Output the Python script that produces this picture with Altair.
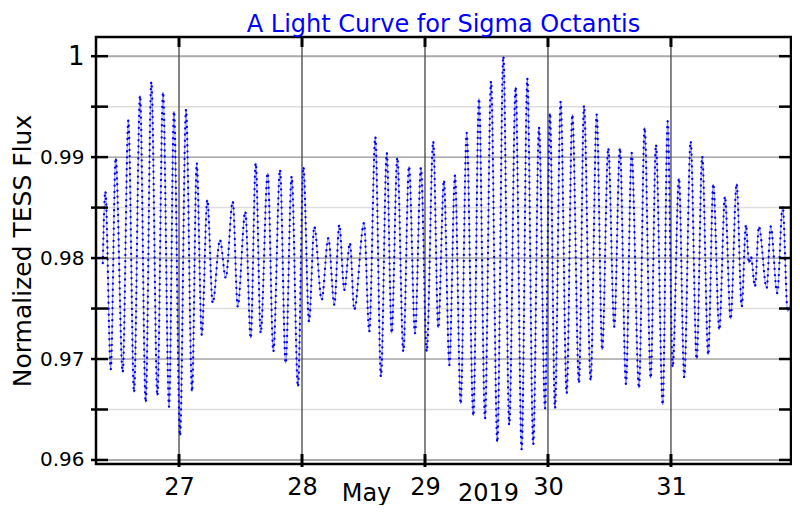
import altair as alt
import pandas as pd

# ---- data (extrema of the light curve) ----
time_day = [
    26.380, 26.401, 26.445, 26.485, 26.542, 26.588, 26.634, 26.683, 26.729, 26.775,
    26.824, 26.870, 26.919, 26.959, 27.008, 27.057, 27.106, 27.144, 27.185, 27.230,
    27.274, 27.333, 27.380, 27.437, 27.477, 27.539, 27.583, 27.624, 27.664, 27.721,
    27.767, 27.821, 27.867, 27.916, 27.967, 28.011, 28.057, 28.100, 28.160, 28.214,
    28.263, 28.303, 28.344, 28.390, 28.425, 28.504, 28.547, 28.596, 28.642, 28.689,
    28.729, 28.775, 28.824, 28.870, 28.919, 28.967, 29.014, 29.067, 29.108, 29.154,
    29.198, 29.244, 29.290, 29.339, 29.393, 29.439, 29.488, 29.537, 29.588, 29.637,
    29.685, 29.737, 29.786, 29.832, 29.880, 29.927, 29.976, 30.016, 30.057, 30.103,
    30.152, 30.198, 30.252, 30.293, 30.347, 30.396, 30.441, 30.490, 30.539, 30.585,
    30.634, 30.680, 30.740, 30.786, 30.835, 30.878, 30.933, 30.973, 31.014, 31.065,
    31.108, 31.160, 31.209, 31.254, 31.303, 31.344, 31.393, 31.439, 31.485, 31.534,
    31.575, 31.610, 31.634, 31.650, 31.683, 31.715, 31.778, 31.811, 31.864, 31.908,
    31.949, 31.967,
]
flux = [
    0.97950, 0.98661, 0.96899, 0.98992, 0.96869, 0.99365, 0.96671, 0.99610, 0.96571, 0.99746,
    0.96637, 0.99643, 0.96528, 0.99454, 0.96240, 0.99471, 0.96677, 0.98942, 0.97239, 0.98578,
    0.97554, 0.98182, 0.97802, 0.98562, 0.97520, 0.98462, 0.97206, 0.98942, 0.97256, 0.98843,
    0.97073, 0.98876, 0.96958, 0.98810, 0.96726, 0.98903, 0.97371, 0.98313, 0.97586, 0.98198,
    0.97537, 0.98330, 0.97685, 0.98149, 0.97487, 0.98347, 0.97272, 0.99200, 0.96825, 0.99042,
    0.97256, 0.98998, 0.97073, 0.98909, 0.97256, 0.98893, 0.97073, 0.99157, 0.97306, 0.98770,
    0.96941, 0.98819, 0.96555, 0.99240, 0.96436, 0.99580, 0.96413, 0.99752, 0.96175, 1.00000,
    0.96346, 0.99696, 0.96105, 0.99779, 0.96155, 0.99296, 0.96512, 0.99438, 0.96512, 0.99548,
    0.96661, 0.99422, 0.96760, 0.99511, 0.96786, 0.99422, 0.97090, 0.99091, 0.97321, 0.99091,
    0.96753, 0.99042, 0.96710, 0.99293, 0.96810, 0.99124, 0.96545, 0.99355, 0.96919, 0.98794,
    0.96819, 0.99157, 0.96998, 0.99008, 0.97041, 0.98734, 0.97289, 0.98611, 0.97395, 0.98737,
    0.97520, 0.98330, 0.97950, 0.98016, 0.97718, 0.98313, 0.97702, 0.98313, 0.97653, 0.98512,
    0.97470, 0.97536,
]

day_ticks = [27, 28, 29, 30, 31]
month_label = "May"
year_label = "2019"
flux_labels = [0.96, 0.97, 0.98, 0.99, 1.0]
flux_inner_major = [0.97, 0.98, 0.99]
flux_edge_major = [0.96, 1.0]
flux_minor = [0.965, 0.975, 0.985, 0.995]
flux_tick_marks = [0.96, 0.965, 0.97, 0.975, 0.98, 0.985, 0.99, 0.995, 1.0]

W, H = 695, 427
FONT = "DejaVu Sans"

xscale = alt.Scale(domain=[26.325, 31.976], nice=False, zero=False)
yscale = alt.Scale(domain=[0.9596, 1.0019], nice=False, zero=False)

curve_df = pd.DataFrame({"t": time_day, "flux": flux})

x_axis = alt.Axis(
    orient="bottom",
    values=day_ticks, format="d", labelFontSize=24, labelFont=FONT, labelColor="black",
    labelPadding=11, ticks=False, tickSize=0, domain=False, grid=False,
    title=month_label, titleFontSize=24, titleFont=FONT,
    titleFontWeight="normal", titleColor="black", titleX=270, titleY=36,
    titleBaseline="alphabetic", titleAlign="center",
)
x_axis_year = alt.Axis(
    orient="bottom",
    values=day_ticks, labels=False, ticks=False, tickSize=0, domain=False, grid=False,
    title=year_label, titleFontSize=24, titleFont=FONT,
    titleFontWeight="normal", titleColor="black", titleX=392, titleY=36,
    titleBaseline="alphabetic", titleAlign="center",
)
y_axis = alt.Axis(
    orient="left",
    values=flux_labels, format=".2~f",
    labelFontSize={"condition": {"test": "datum.value == 1", "value": 26}, "value": 20},
    labelFont=FONT, labelColor="black", labelPadding=12, ticks=False, tickSize=0,
    domain=False, grid=False, title="Normalized TESS Flux", titleFontSize=25,
    titleFont=FONT, titleFontWeight="normal", titleColor="black", titlePadding=4,
)

def Xf(field, axis=None):
    return alt.X(field, scale=xscale, axis=axis)

def Yf(field):
    return alt.Y(field, scale=yscale, axis=y_axis)

def ygrid(values, color, width):
    return alt.Chart(pd.DataFrame({"v": values})).mark_rule(color=color, strokeWidth=width).encode(
        y=Yf("v:Q")
    )

minor_grid = ygrid(flux_minor, "#dddddd", 1.5)
major_grid = ygrid(flux_inner_major, "#777777", 1)
edge_grid = ygrid(flux_edge_major, "#aaaaaa", 2)

day_df = pd.DataFrame({"d": day_ticks})
day_lines = alt.Chart(day_df).mark_rule(color="#444444", strokeWidth=1.3).encode(
    x=Xf("d:Q", x_axis_year)
)

curve_line = alt.Chart(curve_df).mark_line(
    interpolate="monotone", color="#5a5aff", strokeWidth=0.9, opacity=0.75
).encode(x=Xf("t:Q", x_axis), y=Yf("flux:Q"))
curve_dots = alt.Chart(curve_df).mark_line(
    interpolate="monotone", color="#0000ff", strokeWidth=2.3, strokeDash=[0.1, 6], strokeCap="round"
).encode(x=Xf("t:Q"), y=Yf("flux:Q"))

tick_df = pd.DataFrame({"v": flux_tick_marks})
left_ticks = alt.Chart(tick_df).mark_rule(color="black", strokeWidth=2.5).encode(
    y=Yf("v:Q"), x=alt.value(-5), x2=alt.value(12)
)
right_ticks = alt.Chart(tick_df).mark_rule(color="black", strokeWidth=2.5).encode(
    y=Yf("v:Q"), x=alt.value(W - 12), x2=alt.value(W)
)
top_ticks = alt.Chart(day_df).mark_rule(color="black", strokeWidth=3).encode(
    x=Xf("d:Q"), y=alt.value(-1), y2=alt.value(10)
)
bottom_ticks = alt.Chart(day_df).mark_rule(color="black", strokeWidth=3).encode(
    x=Xf("d:Q"), y=alt.value(H - 10), y2=alt.value(H + 3)
)

chart = alt.layer(
    minor_grid, major_grid, edge_grid, day_lines, curve_line, curve_dots,
    left_ticks, right_ticks, top_ticks, bottom_ticks,
).resolve_axis(x="independent").properties(
    width=W, height=H,
    autosize=alt.AutoSizeParams(type="none"),
    padding={"left": 88, "top": 29, "right": 1, "bottom": 41},
    title=alt.TitleParams(
        "A Light Curve for Sigma Octantis", fontSize=24, font=FONT, fontWeight="normal",
        color="blue", offset=0, dy=2, anchor="middle",
    ),
).configure(background="white").configure_view(stroke="black", strokeWidth=2.5)

chart.save("out.html", embed_options={"renderer": "svg", "actions": False})
